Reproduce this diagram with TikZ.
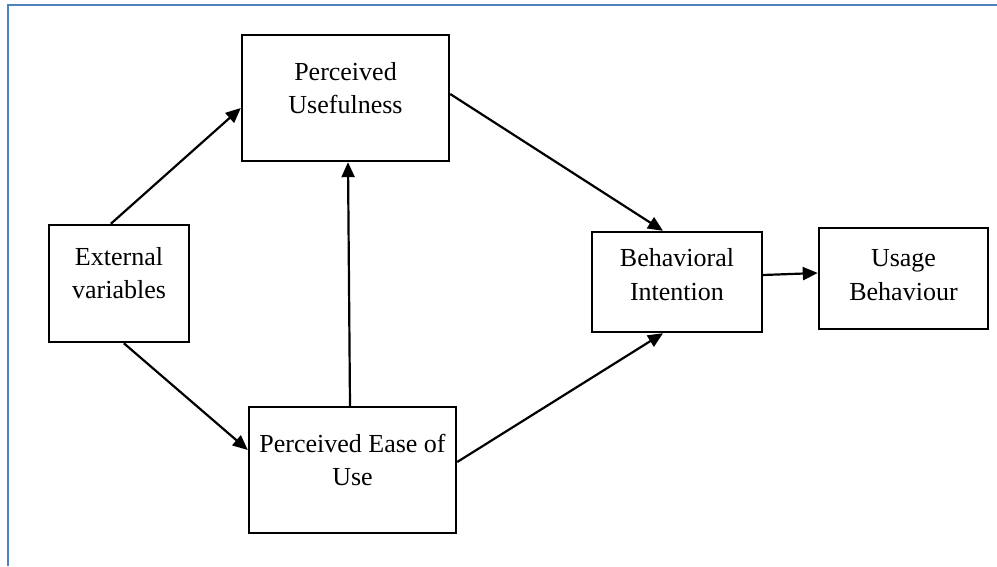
\documentclass[tikz,border=0pt]{standalone}
\usepackage{fontspec}
\setmainfont{Liberation Serif}
\usetikzlibrary{arrows.meta}
\definecolor{framec}{RGB}{79,129,189}
\begin{document}
\begin{tikzpicture}[x=1pt,y=-1pt,
  box/.style={draw=black,line width=2.4pt,inner sep=0pt,rectangle},
  lbl/.style={inner sep=0pt,align=center,anchor=base,
    font=\fontsize{26}{33.5}\selectfont},
  arr/.style={line width=2.2pt,-{Triangle[length=15pt,width=13pt]}}]
\useasboundingbox (0,0) rectangle (997,566);
% page frame (top and left edges)
\draw[framec,line width=2.4pt] (997,5) -- (8,5) -- (8,566);

% boxes
\node[box,minimum width=207pt,minimum height=126pt] (pu)   at (345.5,98)  {};
\node[box,minimum width=140pt,minimum height=117pt] (ev)   at (119,283.5) {};
\node[box,minimum width=207pt,minimum height=126pt] (peou) at (352.5,470) {};
\node[box,minimum width=170pt,minimum height=100pt] (bi)   at (677,282)   {};
\node[box,minimum width=169pt,minimum height=101pt] (ub)   at (903.5,278.5) {};

% labels (anchored at the baseline of the last line)
\node[lbl] (pu-t)   at (345.5,113.5) {Perceived\\Usefulness};
\node[lbl] (ev-t)   at (119,298.5)   {External\\variables};
\node[lbl] (peou-t) at (352.5,485.5) {Perceived Ease of\\Use};
\node[lbl] (bi-t)   at (677,300)     {Behavioral\\Intention};
\node[lbl] (ub-t)   at (903.5,300)   {Usage\\Behaviour};

% connectors
\draw[arr] ([xshift=63pt]ev.north west) -- ([yshift=-10pt]pu.west);
\draw[arr] ([xshift=76pt]ev.south west) -- ([yshift=20pt]peou.west);
\draw[arr] ([xshift=-2.5pt]peou.north) -- ([xshift=2.5pt]pu.south);
\draw[arr] ([yshift=4pt]pu.east) -- ([xshift=-14pt]bi.north);
\draw[arr] ([yshift=8pt]peou.east) -- ([xshift=-14pt]bi.south);
\draw[arr] ([yshift=7pt]bi.east) -- ([yshift=5.5pt]ub.west);
\end{tikzpicture}
\end{document}
